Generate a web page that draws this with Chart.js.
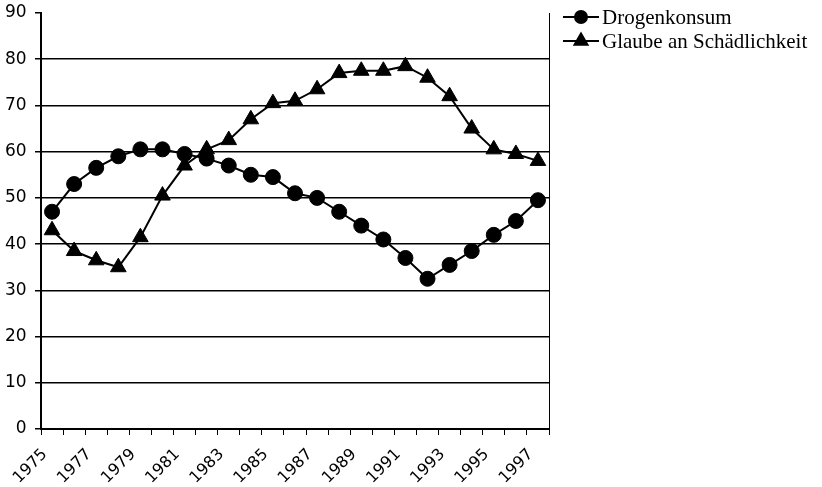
<!DOCTYPE html>
<html>
<head>
<meta charset="utf-8">
<script src="https://cdn.jsdelivr.net/npm/chart.js@4/dist/chart.umd.min.js"></script>
<style>
  html, body { margin: 0; padding: 0; background: #fff; }
  #wrap { width: 822px; height: 487px; }
</style>
</head>
<body>
<div id="wrap"><canvas id="chart" width="822" height="487"></canvas></div>
<script>
// Jahre (Kategorien) und Werte
const years = ['1975', '1976', '1977', '1978', '1979', '1980', '1981', '1982', '1983', '1984', '1985', '1986',
    '1987', '1988', '1989', '1990', '1991', '1992', '1993', '1994', '1995', '1996', '1997'];
const drogenkonsum = [47, 53, 56.5, 59, 60.5, 60.5, 59.5, 58.5, 57, 55, 54.5, 51,
    50, 47, 44, 41, 37, 32.5, 35.5, 38.5, 42, 45, 49.5];
const glaube = [43, 38.5, 36.5, 35, 41.5, 50.5, 57, 60.5, 62.5, 67, 70.5, 71,
    73.5, 77, 77.5, 77.5, 78.5, 76, 72, 65, 60.5, 59.5, 58];
const seriesNames = ['Drogenkonsum', 'Glaube an Schädlichkeit'];

// rechter Rahmen und Legende (Linie + Marker + Text)
const extras = {
    id: 'extras',
    afterDraw(chart) {
        const ctx = chart.ctx;
        const area = chart.chartArea;
        ctx.save();
        ctx.strokeStyle = '#000';
        ctx.lineWidth = 1;
        ctx.beginPath();
        ctx.moveTo(area.right + 0.5, area.top);
        ctx.lineTo(area.right + 0.5, area.bottom);
        ctx.stroke();

        const styles = ['circle', 'triangle'];
        const radii = [6, 7.5];
        const rows = [17, 41];
        seriesNames.forEach(function (name, i) {
            const y = rows[i];
            ctx.strokeStyle = '#000';
            ctx.lineWidth = 2;
            ctx.beginPath();
            ctx.moveTo(563, y);
            ctx.lineTo(599, y);
            ctx.stroke();
            ctx.fillStyle = '#000';
            Chart.helpers.drawPoint(ctx, { pointStyle: styles[i], radius: radii[i], borderWidth: 1 }, 581, y);
            ctx.font = '21px "Liberation Serif"';
            ctx.textBaseline = 'middle';
            ctx.textAlign = 'left';
            ctx.fillText(name, 602, y + 1);
        });
        ctx.restore();
    }
};

const ctx = document.getElementById('chart').getContext('2d');
const chart = new Chart(ctx, {
    type: 'line',
    data: {
        labels: years,
        datasets: [{
            label: seriesNames[0],
            data: drogenkonsum,
            borderColor: '#000',
            backgroundColor: '#000',
            borderWidth: 2,
            pointStyle: 'circle',
            pointRadius: 7.5,
            pointBorderWidth: 1,
            tension: 0
        }, {
            label: seriesNames[1],
            data: glaube,
            borderColor: '#000',
            backgroundColor: '#000',
            borderWidth: 2,
            pointStyle: 'triangle',
            pointRadius: 9,
            pointBorderWidth: 1,
            tension: 0
        }]
    },
    options: {
        responsive: false,
        animation: false,
        layout: { padding: { left: 0, right: 273, top: 13, bottom: 0 } },
        plugins: {
            legend: { display: false },
            tooltip: { enabled: false }
        },
        scales: {
            x: {
                offset: true,
                grid: {
                    offset: true,
                    drawOnChartArea: false,
                    drawTicks: true,
                    tickLength: 6,
                    tickColor: '#000',
                    tickWidth: 1
                },
                border: { color: '#000', width: 2 },
                ticks: {
                    autoSkip: false,
                    maxRotation: 45,
                    minRotation: 45,
                    padding: 3,
                    color: '#000',
                    font: { family: 'DejaVu Sans', size: 16 },
                    // jede zweite Jahreszahl, leicht nach links versetzt
                    callback: function (val, i) { return i % 2 === 0 ? years[i] + '  ' : ''; }
                },
                afterFit: function (scale) { scale.height = 58; }
            },
            y: {
                min: 0,
                max: 90,
                ticks: {
                    stepSize: 10,
                    padding: 3,
                    color: '#000',
                    font: { family: 'DejaVu Sans', size: 17, lineHeight: 1 },
                    callback: function (v) { return v + ' '; }
                },
                grid: {
                    color: function (c) { return c.tick.value === 90 ? 'rgba(0,0,0,0)' : '#000'; },
                    lineWidth: 1.5,
                    tickLength: 6,
                    tickColor: '#000'
                },
                border: { color: '#000', width: 2 },
                afterFit: function (scale) { scale.width = 41; }
            }
        }
    },
    plugins: [extras]
});
</script>
</body>
</html>
